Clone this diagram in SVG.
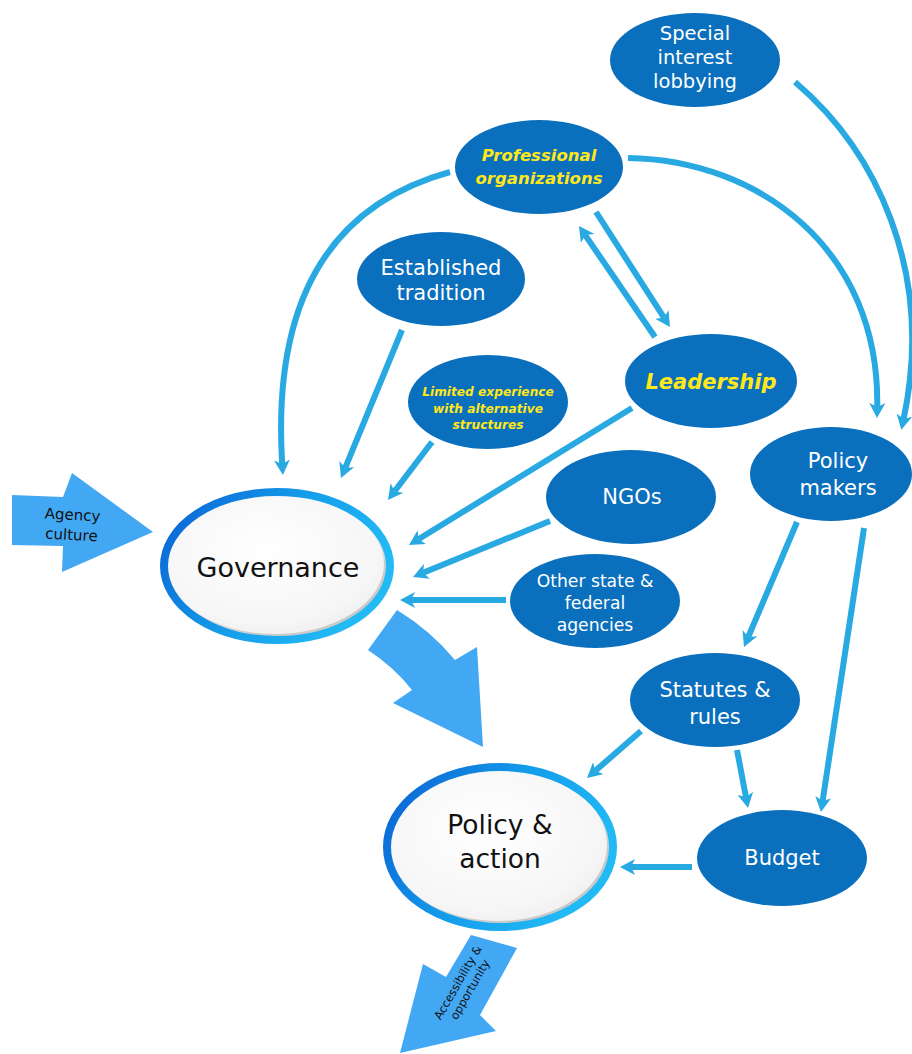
<svg xmlns="http://www.w3.org/2000/svg" width="912" height="1054" viewBox="0 0 912 1054">
<defs>
<style>
.node{fill:#0A6FBD}
.t{font-family:"DejaVu Sans","Noto Sans",sans-serif;fill:#fff;text-anchor:middle}
.y{font-family:"DejaVu Sans","Noto Sans",sans-serif;fill:#FFE81A;text-anchor:middle;font-weight:bold;font-style:italic}
.k{font-family:"DejaVu Sans","Noto Sans",sans-serif;fill:#111;text-anchor:middle}
.c{fill:none;stroke:#29A9E1;stroke-width:6}
.block{fill:#42A8F4}
.ring{fill:none;stroke:url(#ringGrad);stroke-width:8}
</style>
<marker id="ah" viewBox="0 0 16 16" markerWidth="16" markerHeight="16" refX="4" refY="8" orient="auto" markerUnits="userSpaceOnUse">
<path d="M0,0 L15,8 L0,16 L4,8 Z" fill="#29A9E1"/>
</marker>
<linearGradient id="ringGrad" x1="0" y1="0" x2="1" y2="0.4">
<stop offset="0" stop-color="#0A5FD2"/>
<stop offset="0.55" stop-color="#149DEB"/>
<stop offset="1" stop-color="#22BAF5"/>
</linearGradient>
<radialGradient id="fillGrad" cx="0.45" cy="0.4" r="0.65">
<stop offset="0" stop-color="#ffffff"/>
<stop offset="0.8" stop-color="#f6f6f6"/>
<stop offset="1" stop-color="#eeeeee"/>
</radialGradient>
<filter id="blur" x="-20%" y="-20%" width="140%" height="140%">
<feGaussianBlur stdDeviation="2.5"/>
</filter>
</defs>

<g id="connectors">
<path class="c" marker-end="url(#ah)" d="M795,82 C875,150 935,270 903.6,419"/>
<path class="c" marker-end="url(#ah)" d="M628,158 C760,160 880,250 877.2,407"/>
<path class="c" marker-end="url(#ah)" d="M450,172 C330,205 272,300 282.2,464"/>
<path class="c" marker-end="url(#ah)" d="M402,330 L345.2,467.8"/>
<path class="c" marker-end="url(#ah)" d="M432,442 L394.6,491.2"/>
<path class="c" marker-end="url(#ah)" d="M632,408 L418.4,539.2"/>
<path class="c" marker-end="url(#ah)" d="M550,521 L423.2,572.8"/>
<path class="c" marker-end="url(#ah)" d="M506,600 L411,600"/>
<path class="c" marker-end="url(#ah)" d="M596,212 L664,317.7"/>
<path class="c" marker-end="url(#ah)" d="M655,337 L585.2,235.1"/>
<path class="c" marker-end="url(#ah)" d="M797,522 L748.3,636.9"/>
<path class="c" marker-end="url(#ah)" d="M864,528 L822.6,801.1"/>
<path class="c" marker-end="url(#ah)" d="M641,731 L595.3,770.8"/>
<path class="c" marker-end="url(#ah)" d="M737,750 L746,797.2"/>
<path class="c" marker-end="url(#ah)" d="M692,867 L631,867"/>
</g>

<g id="agency-culture">
<path class="block" d="M12,495 L63,497 L72,473 L153,532 L62,572 L63,546 L12,545 Z"/>
<text class="k" font-size="15" transform="rotate(3 72 525)"><tspan x="72" y="520">Agency</tspan><tspan x="72" y="540">culture</tspan></text>
</g>

<g id="gov-to-policy-arrow">
<path class="block" d="M397,610 Q430,630 455,660 L477,647 L483,747 L393,703 L412,690 Q395,668 368,650 Z"/>
</g>

<g id="governance">
<ellipse cx="281" cy="571" rx="108" ry="69" fill="#c9c9c9" filter="url(#blur)"/>
<ellipse cx="275" cy="564" rx="109" ry="70" fill="url(#fillGrad)"/>
<ellipse class="ring" cx="277" cy="566" rx="113" ry="74"/>
<text class="k" font-size="27" x="278" y="577">Governance</text>
</g>

<g id="policy-action">
<ellipse cx="504" cy="852" rx="108" ry="75" fill="#c9c9c9" filter="url(#blur)"/>
<ellipse cx="498" cy="845" rx="109" ry="76" fill="url(#fillGrad)"/>
<ellipse class="ring" cx="500" cy="847" rx="113" ry="80"/>
<text class="k" font-size="26.5"><tspan x="500" y="834">Policy &amp;</tspan><tspan x="500" y="868">action</tspan></text>
</g>

<g id="accessibility-arrow">
<path class="block" d="M471,935 L517,948 L480,1015 L496,1031 L400,1053 L423,964 L446,977 Z"/>
<text class="k" font-size="11.5" transform="translate(464,986) rotate(-60)"><tspan x="0" y="-3">Accessibility &amp;</tspan><tspan x="0" y="11">opportunity</tspan></text>
</g>

<g id="special-interest">
<ellipse class="node" cx="695" cy="60" rx="85" ry="47"/>
<text class="t" font-size="19.5"><tspan x="695" y="40">Special</tspan><tspan x="695" y="64">interest</tspan><tspan x="695" y="88">lobbying</tspan></text>
</g>

<g id="professional-organizations">
<ellipse class="node" cx="539" cy="167" rx="84" ry="47"/>
<text class="y" font-size="16.5"><tspan x="539" y="161">Professional</tspan><tspan x="539" y="184">organizations</tspan></text>
</g>

<g id="established-tradition">
<ellipse class="node" cx="441" cy="279" rx="84" ry="47"/>
<text class="t" font-size="21"><tspan x="441" y="275">Established</tspan><tspan x="441" y="300">tradition</tspan></text>
</g>

<g id="limited-experience">
<ellipse class="node" cx="488" cy="402" rx="80" ry="47"/>
<text class="y" font-size="12.2"><tspan x="488" y="396">Limited experience</tspan><tspan x="488" y="412.5">with alternative</tspan><tspan x="488" y="429">structures</tspan></text>
</g>

<g id="leadership">
<ellipse class="node" cx="711" cy="381" rx="86" ry="47"/>
<text class="y" font-size="21" x="711" y="389">Leadership</text>
</g>

<g id="policy-makers">
<ellipse class="node" cx="831" cy="474" rx="81" ry="47"/>
<text class="t" font-size="21"><tspan x="838" y="468">Policy</tspan><tspan x="838" y="495">makers</tspan></text>
</g>

<g id="ngos">
<ellipse class="node" cx="631" cy="497" rx="85" ry="47"/>
<text class="t" font-size="21" x="632" y="504">NGOs</text>
</g>

<g id="other-agencies">
<ellipse class="node" cx="595" cy="601" rx="85" ry="47"/>
<text class="t" font-size="17.2"><tspan x="595" y="587">Other state &amp;</tspan><tspan x="595" y="609">federal</tspan><tspan x="595" y="631">agencies</tspan></text>
</g>

<g id="statutes-rules">
<ellipse class="node" cx="715" cy="700" rx="85" ry="47"/>
<text class="t" font-size="21"><tspan x="715" y="697">Statutes &amp;</tspan><tspan x="715" y="724">rules</tspan></text>
</g>

<g id="budget">
<ellipse class="node" cx="782" cy="858" rx="85" ry="48"/>
<text class="t" font-size="21" x="782" y="865">Budget</text>
</g>
</svg>
